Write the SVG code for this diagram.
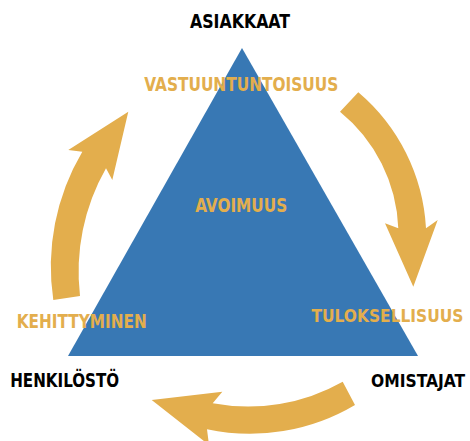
<svg xmlns="http://www.w3.org/2000/svg" width="470" height="441" viewBox="0 0 470 441">
<style>
.t{font-family:"DejaVu Sans Condensed","DejaVu Sans",sans-serif;font-weight:bold;font-size:19px;text-anchor:middle}
.s{font-size:17px}
.o{fill:#E3AE4D}
.k{fill:#000000}
.arrow{fill:#E3AE4D;stroke:none}
</style>
<rect x="0" y="0" width="470" height="441" fill="#FFFFFF"/>
<g id="triangle">
<polygon points="242,48 418,356 68,356" fill="#3878B4"/>
</g>
<g id="connectors">
<path class="arrow" d="M358.3,92.3 A192,192 0 0 1 426,228.3 L437.7,220 L413.3,286.7 L385,223.3 L398.3,228.3 A158,158 0 0 0 340,111.7 Z"/>
<path class="arrow" d="M342.7,381.7 L355,405 A206,206 0 0 1 207,429.3 L209,445 L151.7,400 L222.3,391.7 L212.7,403.3 A192,192 0 0 0 342.7,381.7 Z"/>
<path class="arrow" d="M80,296 L53.3,300 A226,226 0 0 1 82.3,151.7 L68.3,150 L128.3,111.7 L112.3,180 L106,168.3 A209,209 0 0 0 80,296 Z"/>
</g>
<g id="asiakkaat"><text class="t k" x="240" y="28.3" textLength="100" lengthAdjust="spacingAndGlyphs">ASIAKKAAT</text></g>
<g id="henkilosto"><text class="t k" x="64.7" y="386.7" textLength="109" lengthAdjust="spacingAndGlyphs">HENKILÖSTÖ</text></g>
<g id="omistajat"><text class="t s k" x="418" y="386.7" textLength="94" lengthAdjust="spacingAndGlyphs">OMISTAJAT</text></g>
<g id="vastuuntuntoisuus"><text class="t o" x="241.3" y="90.7" textLength="194" lengthAdjust="spacingAndGlyphs">VASTUUNTUNTOISUUS</text></g>
<g id="avoimuus"><text class="t o" x="241.2" y="212" textLength="92" lengthAdjust="spacingAndGlyphs">AVOIMUUS</text></g>
<g id="kehittyminen"><text class="t o" x="81.7" y="328.3" textLength="130" lengthAdjust="spacingAndGlyphs">KEHITTYMINEN</text></g>
<g id="tuloksellisuus"><text class="t s o" x="387.5" y="321.7" textLength="152" lengthAdjust="spacingAndGlyphs">TULOKSELLISUUS</text></g>
</svg>
